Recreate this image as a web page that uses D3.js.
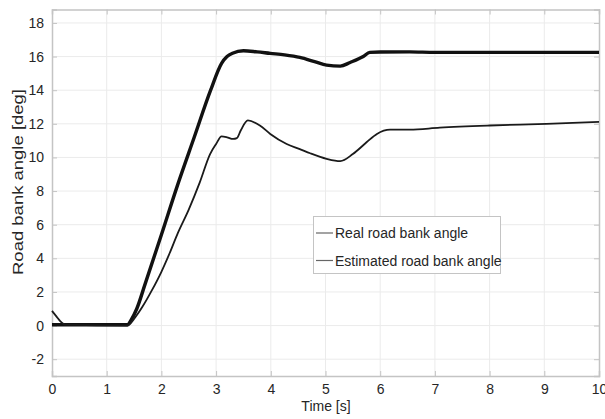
<!DOCTYPE html>
<html><head><meta charset="utf-8">
<script src="https://cdn.jsdelivr.net/npm/d3@7"></script>
<style>body{margin:0;background:#fff}text{font-family:"Liberation Sans",Arial,sans-serif}</style>
</head><body><svg id="c" width="605" height="419"></svg>
<script>
const xTicks = [0,1,2,3,4,5,6,7,8,9,10];
const yTicks = [-2,0,2,4,6,8,10,12,14,16,18];
const realT = [0,1.38,1.45,1.55,1.7,2.0,2.3,2.6,2.9,3.1,3.2,3.3,3.5,3.75,3.99,4.25,4.53,4.8,5.02,5.27,5.45,5.69,5.81,6.0,6.54,7,8,9,10];
const realV = [0.05,0.05,0.35,1.0,2.45,5.4,8.4,11.2,14.0,15.6,16.0,16.2,16.35,16.28,16.19,16.1,15.95,15.7,15.49,15.43,15.65,16.0,16.25,16.27,16.28,16.25,16.25,16.25,16.25];
const estT = [0,0.08,0.15,0.25,1.38,1.5,1.65,1.82,2.0,2.15,2.3,2.5,2.7,2.89,3.0,3.1,3.2,3.31,3.38,3.45,3.58,3.8,3.99,4.29,4.53,4.72,5.02,5.27,5.5,5.75,5.94,6.18,6.54,7.09,8,9.04,10];
const estV = [0.87,0.55,0.27,0.05,0.0,0.4,1.1,2.06,3.2,4.3,5.5,6.9,8.5,10.2,10.8,11.25,11.2,11.1,11.15,11.6,12.2,11.9,11.4,10.8,10.5,10.25,9.92,9.78,10.2,10.9,11.4,11.65,11.65,11.77,11.9,12.0,12.12];
const legendLabels = ["Real road bank angle","Estimated road bank angle"];

const svg = d3.select("#c");
const L=52,R=599,T=9.5,B=376;
const x = d3.scaleLinear().domain([0,10]).range([L,R]);
const y = d3.scaleLinear().domain([-3,18.8]).range([B,T]);

// grid
svg.append("g").selectAll("line").data(xTicks.slice(1,-1)).join("line")
  .attr("x1",d=>x(d)).attr("x2",d=>x(d)).attr("y1",T).attr("y2",B)
  .attr("stroke","#ebebeb").attr("stroke-width",1);
svg.append("g").selectAll("line").data(yTicks).join("line")
  .attr("x1",L).attr("x2",R).attr("y1",d=>y(d)).attr("y2",d=>y(d))
  .attr("stroke","#ebebeb").attr("stroke-width",1);

// axes
const fmt = d=>String(d);
const ax = svg.append("g").attr("transform",`translate(0,${B})`)
  .call(d3.axisBottom(x).tickValues(xTicks).tickSize(-5).tickPadding(8).tickFormat(fmt));
const ay = svg.append("g").attr("transform",`translate(${L},0)`)
  .call(d3.axisLeft(y).tickValues(yTicks).tickSize(-5).tickPadding(8).tickFormat(fmt));
const axT = svg.append("g").attr("transform",`translate(0,${T})`)
  .call(d3.axisTop(x).tickValues(xTicks).tickSize(-5).tickFormat(""));
const ayR = svg.append("g").attr("transform",`translate(${R},0)`)
  .call(d3.axisRight(y).tickValues(yTicks).tickSize(-5).tickFormat(""));
[ax,ay,axT,ayR].forEach(g=>{
  g.select(".domain").attr("stroke","#c4c4c4").attr("stroke-width",1.5);
  g.selectAll(".tick line").attr("stroke","#c4c4c4");
  g.selectAll(".tick text").attr("fill","#262626").attr("font-size",14).attr("font-family","Liberation Sans, Arial, sans-serif");
});

// lines
const line = d3.line().curve(d3.curveMonotoneX);
svg.append("path").datum(realT.map((t,i)=>[x(t),y(realV[i])]))
  .attr("d",line).attr("fill","none").attr("stroke","#111").attr("stroke-width",3.4).attr("stroke-linejoin","round");
svg.append("path").datum(estT.map((t,i)=>[x(t),y(estV[i])]))
  .attr("d",line).attr("fill","none").attr("stroke","#1a1a1a").attr("stroke-width",1.8).attr("stroke-linejoin","round");

// legend
const lg = svg.append("g");
lg.append("rect").attr("x",313.5).attr("y",216.5).attr("width",187).attr("height",57)
  .attr("fill","#fff").attr("stroke","#c4c4c4").attr("stroke-width",1);
legendLabels.forEach((s,i)=>{
  const yy = 233 + i*27.5;
  lg.append("line").attr("x1",316).attr("x2",333).attr("y1",yy).attr("y2",yy)
    .attr("stroke","#666").attr("stroke-width",1.2);
  lg.append("text").attr("x",335).attr("y",yy+5).attr("font-size",14).attr("fill","#262626").text(s);
});

// labels
svg.append("text").attr("x",326).attr("y",411).attr("text-anchor","middle")
  .attr("font-size",14).attr("fill","#262626").text("Time [s]");
svg.append("text").attr("transform",`translate(23,182) rotate(-90)`).attr("text-anchor","middle")
  .attr("font-size",15).attr("textLength",186).attr("lengthAdjust","spacingAndGlyphs")
  .attr("fill","#262626").text("Road bank angle [deg]");
</script></body></html>
